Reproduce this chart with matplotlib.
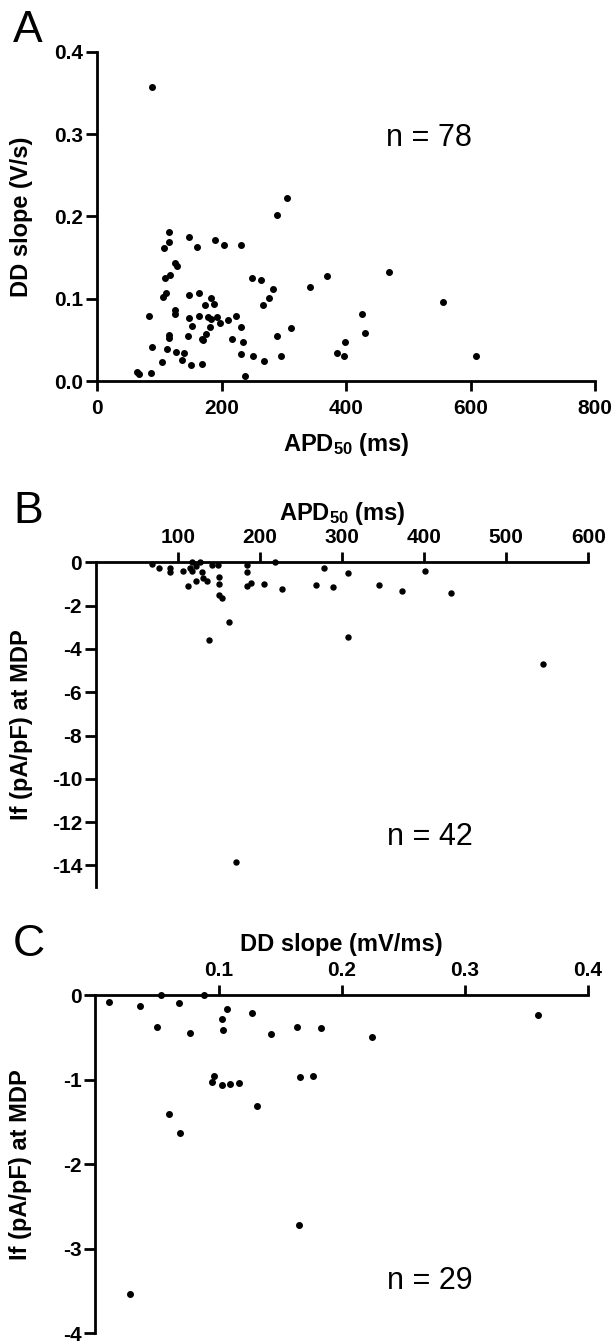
import matplotlib
matplotlib.use("Agg")
import matplotlib.pyplot as plt

plt.rcParams['font.family'] = ['Liberation Sans', 'DejaVu Sans']
plt.rcParams['mathtext.fontset'] = 'custom'
plt.rcParams['mathtext.rm'] = 'Liberation Sans'
plt.rcParams['mathtext.bf'] = 'Liberation Sans:bold'
plt.rcParams['mathtext.default'] = 'bf'
plt.rcParams['axes.unicode_minus'] = False

# Panel A : APD50 (ms) vs DD slope (V/s)
apd_a = [89, 305, 289, 116, 115, 107, 148, 161, 190, 204, 232, 126, 129,
         117, 110, 249, 264, 282, 342, 370, 111, 106, 147, 164, 183, 173, 188,
         276, 266, 126, 126, 84, 148, 164, 178, 183, 192, 198, 211, 223, 153,
         182, 231, 312, 115, 116, 146, 175, 169, 171, 217, 235, 289, 89, 112,
         127, 140, 104, 136, 151, 169, 231, 251, 269, 296, 64, 68, 86, 238,
         469, 556, 426, 430, 398, 385, 397, 609]
dd_a = [0.357, 0.223, 0.202, 0.181, 0.169, 0.162, 0.175, 0.163, 0.171, 0.165,
        0.165, 0.144, 0.140, 0.129, 0.125, 0.125, 0.123, 0.112, 0.114, 0.128,
        0.107, 0.102, 0.105, 0.107, 0.101, 0.092, 0.094, 0.101, 0.093, 0.086,
        0.081, 0.079, 0.076, 0.079, 0.078, 0.075, 0.078, 0.071, 0.074, 0.079,
        0.067, 0.066, 0.066, 0.064, 0.056, 0.052, 0.055, 0.057, 0.051, 0.050,
        0.051, 0.047, 0.055, 0.041, 0.039, 0.035, 0.034, 0.023, 0.026, 0.020,
        0.021, 0.033, 0.030, 0.024, 0.031, 0.011, 0.009, 0.010, 0.006,
        0.133, 0.096, 0.082, 0.058, 0.047, 0.034, 0.031, 0.030]

# Panel B : APD50 (ms) vs If at MDP (pA/pF)
apd_b = [68.6, 76.8, 89.8, 89.8, 106.4, 117.4, 126.7, 121.9, 114.6, 116.6,
         129.2, 141, 148.7, 112.1, 121.5, 130.8, 135.3, 149.9, 149.5, 150.3,
         153.2, 162.5, 183.6, 183.6, 183.6, 188.9, 205.1, 218, 227, 277.5,
         307.5, 267.7, 289.2, 344.5, 307.5, 137.7, 373, 400.6, 433, 544.8, 170.6]
if_b = [-0.09, -0.28, -0.25, -0.46, -0.39, 0.0, 0.0, -0.16, -0.28, -0.39,
        -0.43, -0.12, -0.12, -1.08, -0.87, -0.71, -0.85, -0.68, -0.99, -1.51,
        -1.67, -2.75, -0.12, -0.43, -1.08, -0.97, -0.99, 0.0, -1.24, -0.28,
        -0.50, -1.05, -1.14, -1.05, -3.44, -3.57, -1.34, -0.39, -1.42, -4.72,
        -13.85]

# Panel C : DD slope (mV/ms) vs If at MDP (pA/pF)
dd_c = [0.011, 0.036, 0.053, 0.068, 0.088, 0.050, 0.077, 0.107, 0.103, 0.104,
        0.127, 0.143, 0.164, 0.183, 0.096, 0.095, 0.103, 0.109, 0.117, 0.166,
        0.177, 0.131, 0.060, 0.069, 0.225, 0.360, 0.165, 0.028]
if_c = [-0.082, -0.133, 0.0, -0.094, 0.0, -0.38, -0.454, -0.164, -0.282,
        -0.411, -0.211, -0.462, -0.376, -0.395, -0.959, -1.029, -1.068, -1.052,
        -1.045, -0.97, -0.962, -1.315, -1.412, -1.632, -0.497, -0.231, -2.715,
        -3.53]

tick_fs = 15
label_fs = 17


def style(ax, xpad=4):
    for s in ax.spines.values():
        s.set_linewidth(2)
    ax.tick_params(axis='x', width=2, length=7, labelsize=tick_fs, pad=xpad)
    ax.tick_params(axis='y', width=2, length=8, labelsize=tick_fs, pad=2)
    for lab in ax.get_xticklabels() + ax.get_yticklabels():
        lab.set_fontweight('bold')


fig = plt.figure(figsize=(6.14, 13.43), dpi=100)

# A
ax = fig.add_axes([0.158, 0.7163, 0.8111, 0.2450])
ax.plot(apd_a, dd_a, 'o', color='black', ms=4, clip_on=False)
ax.set_xlim(0, 800)
ax.set_ylim(0, 0.4)
ax.set_xticks([0, 200, 400, 600, 800])
ax.set_yticks([0.0, 0.1, 0.2, 0.3, 0.4])
ax.set_yticklabels(['0.0', '0.1', '0.2', '0.3', '0.4'])
ax.spines['top'].set_visible(False)
ax.spines['right'].set_visible(False)
style(ax, xpad=6)
ax.set_xlabel('APD$_{50}$ (ms)', fontsize=label_fs, fontweight='bold')
ax.set_ylabel('DD slope (V/s)', fontsize=label_fs, fontweight='bold')
ax.xaxis.set_label_coords(0.5, -0.152)
ax.yaxis.set_label_coords(-0.128, 0.5)
ax.text(533, 0.296, 'n = 78', fontsize=22, ha='center', va='center')

# B
ax = fig.add_axes([0.1564, 0.3395, 0.8018, 0.2418])
ax.plot(apd_b, if_b, 'o', color='black', ms=3.6, clip_on=False)
ax.set_xlim(0, 600)
ax.set_ylim(-15, 0)
ax.set_xticks([100, 200, 300, 400, 500, 600])
ax.set_yticks([0, -2, -4, -6, -8, -10, -12, -14])
ax.xaxis.tick_top()
ax.xaxis.set_label_position('top')
ax.spines['bottom'].set_visible(False)
ax.spines['right'].set_visible(False)
style(ax)
ax.set_xlabel('APD$_{50}$ (ms)', fontsize=label_fs, fontweight='bold')
ax.set_ylabel('If (pA/pF) at MDP', fontsize=label_fs, fontweight='bold')
ax.xaxis.set_label_coords(0.5, 1.13)
ax.yaxis.set_label_coords(-0.128, 0.5)
ax.text(407, -12.67, 'n = 42', fontsize=22, ha='center', va='center')

# C
ax = fig.add_axes([0.1555, 0.0072, 0.8016, 0.2519])
ax.plot(dd_c, if_c, 'o', color='black', ms=4, clip_on=False)
ax.set_xlim(0, 0.4)
ax.set_ylim(-4, 0)
ax.set_xticks([0.1, 0.2, 0.3, 0.4])
ax.set_xticklabels(['0.1', '0.2', '0.3', '0.4'])
ax.set_yticks([0, -1, -2, -3, -4])
ax.xaxis.tick_top()
ax.xaxis.set_label_position('top')
ax.spines['bottom'].set_visible(False)
ax.spines['right'].set_visible(False)
style(ax)
ax.set_xlabel('DD slope (mV/ms)', fontsize=label_fs, fontweight='bold')
ax.set_ylabel('If (pA/pF) at MDP', fontsize=label_fs, fontweight='bold')
ax.xaxis.set_label_coords(0.5, 1.13)
ax.yaxis.set_label_coords(-0.128, 0.5)
ax.text(0.272, -3.38, 'n = 29', fontsize=22, ha='center', va='center')

# panel letters
fig.text(13 / 614, 1 - 42 / 1343, 'A', fontsize=32, va='baseline')
fig.text(13 / 614, 1 - 523 / 1343, 'B', fontsize=32, va='baseline')
fig.text(13 / 614, 1 - 956 / 1343, 'C', fontsize=32, va='baseline')

fig.savefig('out.png', dpi=100)
